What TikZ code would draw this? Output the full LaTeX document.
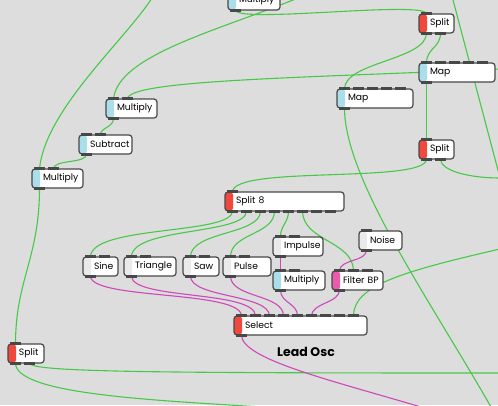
\documentclass[tikz,border=0pt]{standalone}
\usepackage{fontspec}
\setmainfont{Poppins}
\definecolor{patchbg}{RGB}{221,221,221}
\definecolor{wiregreen}{RGB}{72,200,72}
\definecolor{wirepink}{RGB}{205,72,185}
\definecolor{stripblue}{RGB}{170,222,234}
\definecolor{stripred}{RGB}{240,72,60}
\definecolor{strippink}{RGB}{236,90,170}
\definecolor{stripgrey}{RGB}{234,234,234}
\definecolor{boxedge}{RGB}{72,72,72}

\pgfdeclarelayer{wires}
\pgfsetlayers{wires,main}

% little dark tabs on the edges of a box
\newcommand\inports[2]{\foreach \k in {1,...,#2}{%
  \fill[port] ([xshift={2pt+14pt*(\k-1)},yshift=1.6pt]#1.north west) rectangle ++(11pt,-3pt);}}
\newcommand\outports[2]{\foreach \k in {1,...,#2}{%
  \fill[port] ([xshift={2pt+14pt*(\k-1)},yshift=1.4pt]#1.south west) rectangle ++(11pt,-3pt);}}

\tikzset{
  obj/.style={draw=boxedge, line width=1.2pt, fill=white, rounded corners=3pt,
    anchor=north west, outer sep=0pt, minimum height=19pt, inner xsep=0pt, inner ysep=0pt,
    align=left, font=\fontsize{9.2}{10}\selectfont,
    path picture={\fill[#1] (path picture bounding box.south west)
      rectangle ([xshift=8pt]path picture bounding box.north west);}},
  obj/.default=stripgrey,
  wd/.code={\pgfmathsetmacro\objtw{#1-22}\tikzset{minimum width=#1pt, text width=\objtw pt}},
  port/.style={fill=boxedge},
  gwire/.style={draw=wiregreen, line width=1.1pt},
  mwire/.style={draw=wirepink, line width=1.1pt}
}

\begin{document}
\begin{tikzpicture}[x=1pt, y=-1pt]
\useasboundingbox (0,0) rectangle (498,405);

% modules
\node[obj=stripblue, wd=52] (mulA) at (228,-9) {Multiply};
\node[obj=stripred, wd=35] (splitA) at (419,14) {Split};
\node[obj=stripblue, wd=76] (mapB) at (419,63) {Map};
\node[obj=stripblue, wd=76] (mapA) at (337,89) {Map};
\node[obj=stripred, wd=35] (splitB) at (419,140) {Split};
\node[obj=stripblue, wd=51] (mulB) at (106,99) {Multiply};
\node[obj=stripblue, wd=53] (sub) at (79,135) {Subtract};
\node[obj=stripblue, wd=51] (mulC) at (32,169) {Multiply};
\node[obj=stripred, wd=119] (split8) at (225,192) {Split~8};
\node[obj, wd=35] (sine) at (83,257) {Sine};
\node[obj, wd=52] (triangle) at (124,257) {Triangle};
\node[obj, wd=36] (saw) at (183,257) {Saw};
\node[obj, wd=48] (pulse) at (223,257) {Pulse};
\node[obj, wd=50] (impulse) at (273,237) {Impulse};
\node[obj=stripblue, wd=52] (mulD) at (273,271) {Multiply};
\node[obj=strippink, wd=51] (filter) at (332,271) {Filter~BP};
\node[obj, wd=43] (noise) at (359,231) {Noise};
\node[obj=stripred, wd=133] (select) at (234,316) {Select};
\node[obj=stripred, wd=36] (splitC) at (8,344) {Split};
\node[font=\fontsize{12.5}{14}\selectfont\bfseries] (title) at (306,352) {Lead Osc};

\inports{mulA}{2} \outports{mulA}{1}
\inports{splitA}{1} \outports{splitA}{2}
\inports{mapB}{5} \outports{mapB}{1}
\inports{mapA}{5} \outports{mapA}{1}
\inports{splitB}{1} \outports{splitB}{2}
\inports{mulB}{2} \outports{mulB}{1}
\inports{sub}{2} \outports{sub}{1}
\inports{mulC}{2} \outports{mulC}{1}
\inports{split8}{1} \outports{split8}{8}
\inports{sine}{2} \outports{sine}{1}
\inports{triangle}{2} \outports{triangle}{1}
\inports{saw}{2} \outports{saw}{1}
\inports{pulse}{2} \outports{pulse}{1}
\inports{impulse}{2} \outports{impulse}{1}
\inports{mulD}{2} \outports{mulD}{1}
\inports{filter}{3} \outports{filter}{1}
\inports{noise}{1} \outports{noise}{1}
\inports{select}{9} \outports{select}{1}
\inports{splitC}{1} \outports{splitC}{2}

% loose ends at the border
\coordinate (edgeA) at (152,-2);
\coordinate (edgeB) at (298,-2);
\coordinate (edgeC) at (500,69);
\coordinate (edgeD) at (452.5,-2);
\coordinate (edgeE) at (499,174);
\coordinate (edgeF) at (500,178);
\coordinate (edgeG) at (491,407);
\coordinate (edgeH) at (500,249);
\coordinate (edgeI) at (500,373);
\coordinate (edgeJ) at (262,407);
\coordinate (edgeK) at (421,407);

\begin{pgfonlayer}{wires}
\fill[patchbg] (0,0) rectangle (498,405);

% green connections
\draw[gwire] (edgeA) .. controls (125,40) and (45,110) .. ([xshift=7.5pt]mulC.north west);
\draw[gwire] ([xshift=7.5pt]mulC.south west) .. controls +(0,70) and (15.5,280) .. ([xshift=7.5pt]splitC.north west);
\draw[gwire] ([xshift=7.5pt]mulB.north west) .. controls (118,55) and (220,30) .. (edgeB);
\draw[gwire] (edgeC) .. controls (300,78) and (127.5,80) .. ([xshift=21.5pt]mulB.north west);
\draw[gwire] ([xshift=7.5pt]mulB.south west) .. controls +(0,10) and +(0,-8) .. ([xshift=21.5pt]sub.north west);
\draw[gwire] ([xshift=7.5pt]sub.south west) .. controls +(0,10) and +(0,-10) .. ([xshift=21.5pt]mulC.north west);
\draw[gwire] ([xshift=7.5pt]mulA.south west) .. controls +(0,14) and +(0,-14) .. ([xshift=7.5pt]splitA.north west);
\draw[gwire] ([xshift=7.5pt]splitA.south west) .. controls +(0,27) and +(0,-27) .. ([xshift=7.5pt]mapA.north west);
\draw[gwire] ([xshift=21.5pt]splitA.south west) .. controls +(0,15) and +(0,-15) .. ([xshift=7.5pt]mapB.north west);
\draw[gwire] ([xshift=7.5pt]mapB.south west) -- ([xshift=7.5pt]splitB.north west);
\draw[gwire] (edgeD) -- (edgeE);
\draw[gwire] ([xshift=7.5pt]mapA.south west) .. controls +(0,71) and (430,300) .. (edgeG);
\draw[gwire] ([xshift=7.5pt]splitB.south west) .. controls +(0,25) and +(0,-27) .. ([xshift=7.5pt]split8.north west);
\draw[gwire] ([xshift=21.5pt]splitB.south west) .. controls +(0,12) and (470,178) .. (edgeF);
\draw[gwire] ([xshift=7.5pt]split8.south west) .. controls +(0,24) and +(0,-32) .. ([xshift=7.5pt]sine.north west);
\draw[gwire] ([xshift=21.5pt]split8.south west) .. controls +(0,24) and +(0,-30) .. ([xshift=7.5pt]triangle.north west);
\draw[gwire] ([xshift=35.5pt]split8.south west) .. controls +(0,24) and +(0,-26) .. ([xshift=7.5pt]saw.north west);
\draw[gwire] ([xshift=49.5pt]split8.south west) .. controls +(0,24) and +(0,-24) .. ([xshift=7.5pt]pulse.north west);
\draw[gwire] ([xshift=63.5pt]split8.south west) .. controls +(0,12) and +(0,-12) .. ([xshift=7.5pt]impulse.north west);
\draw[gwire] ([xshift=77.5pt]split8.south west) .. controls +(0,30) and +(0,-30) .. ([xshift=21.5pt]filter.north west);
\draw[gwire] ([xshift=119.5pt]select.north west) .. controls +(0,-30) and (400,272) .. (edgeH);
\draw[gwire] ([xshift=7.5pt]splitC.south west) .. controls +(0,31) and (150,400) .. (edgeJ);
\draw[gwire] ([xshift=21.5pt]splitC.south west) .. controls +(0,9) and (150,373) .. (edgeI);

% audio connections
\draw[mwire] ([xshift=7.5pt]sine.south west) .. controls +(0,24) and +(0,-26) .. ([xshift=7.5pt]select.north west);
\draw[mwire] ([xshift=7.5pt]triangle.south west) .. controls +(0,24) and +(0,-26) .. ([xshift=21.5pt]select.north west);
\draw[mwire] ([xshift=7.5pt]saw.south west) .. controls +(0,22) and +(0,-22) .. ([xshift=35.5pt]select.north west);
\draw[mwire] ([xshift=7.5pt]pulse.south west) .. controls +(0,22) and +(0,-22) .. ([xshift=49.5pt]select.north west);
\draw[mwire] ([xshift=7.5pt]mulD.south west) .. controls +(0,13) and +(0,-13) .. ([xshift=63.5pt]select.north west);
\draw[mwire] ([xshift=7.5pt]filter.south west) .. controls +(0,13) and +(0,-13) .. ([xshift=77.5pt]select.north west);
\draw[mwire] ([xshift=7.5pt]impulse.south west) -- ([xshift=7.5pt]mulD.north west);
\draw[mwire] ([xshift=7.5pt]noise.south west) .. controls +(0,12) and +(0,-12) .. ([xshift=7.5pt]filter.north west);
\draw[mwire] ([xshift=7.5pt]select.south west) .. controls +(0,24) and (330,380) .. (edgeK);
\end{pgfonlayer}

\end{tikzpicture}
\end{document}
